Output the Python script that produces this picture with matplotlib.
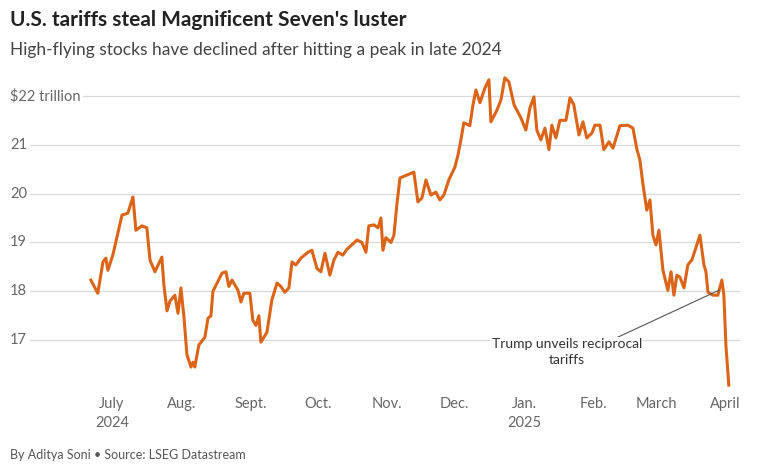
import matplotlib
matplotlib.use("Agg")
import matplotlib.pyplot as plt
import pandas as pd

plt.rcParams['font.family'] = ['Lato', 'DejaVu Sans']

# days since 2024-07-01
days = [-9.4,-6.3,-4,-2.7,-1.8,0.4,2.7,4.5,7.1,9.4,10.7,13.4,15.6,17,19.2,22.3,23.2,24.6,25.9,28.1,29.5,30.8,32.1,33.5,35.3,36.2,37,38.8,41.5,42.9,44.2,45.1,47.3,49.1,50.9,52.2,53.6,56.3,57.6,58.9,61.6,62.9,64.3,65.6,66.5,69.2,71.4,73.7,75.4,77.2,79,80.4,82.1,84.4,87.5,89.3,91.5,93.3,95.1,97.3,99.1,100.9,103.1,104.9,107.1,109.4,111.6,113.4,114.7,117,118.8,120.1,121,122.3,124.6,125.9,127.2,128.6,131.7,134.8,136.6,138.4,140.2,142.4,144.6,146.4,148.2,150.4,153.1,154.5,155.8,157.1,159.8,161.2,162.5,164.3,166.5,168.3,169.2,171.9,173.7,175.4,177.2,179.5,182.6,184.8,186.6,188.4,189.7,191.5,193.3,195.1,196.4,198.2,200,202.7,204.5,206.2,208.5,210.3,212,214.3,215.6,217.9,219.6,221.9,223.7,226.8,230.4,232.6,234.4,235.7,237.1,238.8,240.2,241.5,242.9,244.2,246,248.2,249.6,250.9,252.2,253.6,255.4,257.1,258.9,260.7,262.5,264.3,265.2,266.1,268.3,270.5,272.3,273.2,274.1,275.4]
values = [18.23,17.96,18.6,18.68,18.43,18.74,19.2,19.56,19.6,19.93,19.25,19.34,19.3,18.64,18.4,18.7,18.13,17.6,17.8,17.92,17.55,18.07,17.5,16.7,16.45,16.55,16.45,16.9,17.06,17.45,17.5,18.0,18.2,18.37,18.4,18.1,18.23,18.02,17.78,17.96,17.96,17.41,17.3,17.5,16.96,17.16,17.82,18.17,18.1,17.98,18.07,18.6,18.54,18.68,18.8,18.84,18.47,18.4,18.78,18.33,18.64,18.8,18.74,18.86,18.95,19.05,19.0,18.8,19.34,19.36,19.3,19.5,18.84,19.1,19.0,19.15,19.77,20.32,20.38,20.44,19.83,19.91,20.28,19.97,20.03,19.87,19.97,20.28,20.54,20.79,21.1,21.45,21.39,21.82,22.12,21.86,22.16,22.33,21.47,21.71,21.92,22.37,22.29,21.82,21.55,21.3,21.75,21.98,21.3,21.1,21.34,20.9,21.4,21.14,21.5,21.5,21.96,21.82,21.2,21.47,21.14,21.24,21.4,21.4,20.9,21.06,20.93,21.39,21.4,21.34,20.9,20.69,20.18,19.66,19.87,19.15,18.95,19.25,18.43,18.02,18.4,17.92,18.33,18.29,18.07,18.54,18.64,18.89,19.15,18.54,18.4,17.98,17.92,17.92,18.23,17.92,16.9,16.08]

month_starts = ["2024-07-01","2024-08-01","2024-09-01","2024-10-01","2024-11-01","2024-12-01",
                "2025-01-01","2025-02-01","2025-03-01","2025-04-01"]
month_labels = ["July\n2024","Aug.","Sept.","Oct.","Nov.","Dec.","Jan.\n2025","Feb.","March","April"]
y_ticks = [17, 18, 19, 20, 21, 22]
y_labels = ["17","18","19","20","21","$22 trillion"]

base = pd.Timestamp("2024-07-01")
dates = [base + pd.Timedelta(days=d) for d in days]

W, H = 764, 465
fig = plt.figure(figsize=(W/100, H/100), dpi=100)
ax = fig.add_axes([10/W, 1-390/H, 730/W, 320/H])
ax.set_xlim(base + pd.Timedelta(days=-45.5), base + pd.Timedelta(days=280.4))
ax.set_ylim(15.98, 22.53)
for s in ax.spines.values():
    s.set_visible(False)
ax.set_yticks([])
for v, lab in zip(y_ticks, y_labels):
    ax.axhline(v, color="#d9d9d9", lw=0.9, zorder=0)
    ax.text(0.0, v, lab, transform=ax.get_yaxis_transform(), va="center", ha="left",
            fontsize=10.5, color="#666666",
            bbox=dict(facecolor="white", edgecolor="none", pad=2))
ax.plot(dates, values, color="#dc6419", lw=2.2, zorder=3, solid_joinstyle="round")
ax.set_xticks([pd.Timestamp(m) for m in month_starts])
ax.set_xticklabels(month_labels, fontsize=10.5, color="#666666", va="top", linespacing=1.5)
ax.tick_params(axis="x", length=0, pad=5)

ax.annotate("", xy=(base + pd.Timedelta(days=272.3), 18.05),
            xytext=(base + pd.Timedelta(days=223), 17.0),
            arrowprops=dict(arrowstyle="-", color="#555555", lw=0.8))
ax.text(base + pd.Timedelta(days=203), 16.75, "Trump unveils reciprocal\ntariffs",
        ha="center", va="center", fontsize=10, color="#333333", linespacing=1.4,
        bbox=dict(facecolor="white", edgecolor="none", pad=1))

fig.text(10/W, 1-20/H, "U.S. tariffs steal Magnificent Seven's luster", fontsize=15,
         fontweight="bold", color="#222222", va="center")
fig.text(10/W, 1-50/H, "High-flying stocks have declined after hitting a peak in late 2024",
         fontsize=12.5, color="#444444", va="center")
fig.text(10/W, 1-455/H, "By Aditya Soni • Source: LSEG Datastream", fontsize=9,
         color="#555555", va="center")
fig.savefig("out.png", dpi=100)
